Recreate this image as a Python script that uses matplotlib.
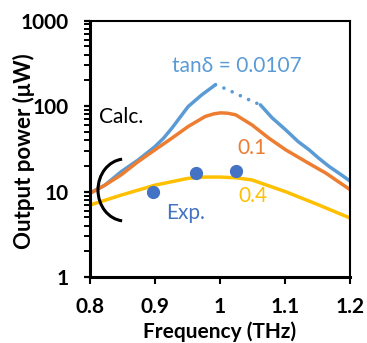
import matplotlib
matplotlib.use("Agg")
import matplotlib.pyplot as plt
import numpy as np
from matplotlib.patches import Arc
from matplotlib.ticker import LogLocator, NullFormatter, FixedLocator

plt.rcParams['font.family'] = ['Lato', 'DejaVu Sans']

# calculated curves (frequency in THz, power in uW)
f_low = [0.800, 0.823, 0.848, 0.874, 0.900, 0.913, 0.926, 0.938, 0.951,
         0.972, 0.993]
p_low = [9.6, 11.9, 17.1, 23.4, 33.6, 42.0, 55.2, 73.0, 98.8,
         135.5, 177.8]
f_gap = [0.993, 1.010, 1.028, 1.045, 1.062]
p_gap = [177.8, 158.0, 136.0, 118.0, 103.5]
f_high = [1.062, 1.080, 1.101, 1.120, 1.137, 1.152, 1.168, 1.185, 1.201]
p_high = [103.5, 73.0, 52.7, 38.5, 30.8, 24.5, 19.6, 16.0, 13.1]

f_mid = [0.800, 0.823, 0.848, 0.874, 0.900, 0.926, 0.951, 0.977, 0.990,
         1.001, 1.012, 1.024, 1.049, 1.075, 1.101, 1.132, 1.163, 1.201]
p_mid = [9.55, 11.9, 15.7, 22.4, 30.8, 42.2, 57.7, 75.5, 81.0,
         83.4, 82.5, 79.1, 60.4, 42.2, 30.8, 22.4, 16.4, 10.4]

f_big = [0.800, 0.848, 0.900, 0.951, 0.975, 1.000, 1.025, 1.049, 1.101,
         1.152, 1.201]
p_big = [6.97, 9.1, 11.9, 14.3, 14.8, 14.8, 14.5, 13.7, 9.97, 6.97, 4.87]

# measured points
f_exp = [0.897, 0.963, 1.024]
p_exp = [10.0, 16.7, 17.6]

blue = '#5B9BD5'
orange = '#ED7D31'
yellow = '#FFC000'
dot = '#4472C4'

fig = plt.figure(figsize=(3.67, 3.43), dpi=100)
ax = fig.add_axes([0.245, 0.192, 0.709, 0.748])

ax.plot(f_low, p_low, color=blue, lw=2.5, solid_capstyle='round')
ax.plot(f_gap, p_gap, color=blue, lw=2.6, linestyle=(0, (0.01, 2.5)),
        dash_capstyle='round')
ax.plot(f_high, p_high, color=blue, lw=2.5, solid_capstyle='round')
ax.plot(f_mid, p_mid, color=orange, lw=2.5)
ax.plot(f_big, p_big, color=yellow, lw=2.5)
ax.plot(f_exp, p_exp, 'o', color=dot, ms=8.5, zorder=5)

ax.set_yscale('log')
ax.set_xlim(0.8, 1.2)
ax.set_ylim(1, 1000)
ax.xaxis.set_major_locator(FixedLocator([0.8, 0.9, 1.0, 1.1, 1.2]))
ax.set_xticklabels(['0.8', '0.9', '1', '1.1', '1.2'])
ax.yaxis.set_major_locator(FixedLocator([1, 10, 100, 1000]))
ax.set_yticklabels(['1', '10', '100', '1000'])
ax.yaxis.set_minor_locator(LogLocator(base=10, subs=np.arange(2, 10)))
ax.yaxis.set_minor_formatter(NullFormatter())

for lbl in ax.get_xticklabels() + ax.get_yticklabels():
    lbl.set_fontweight('bold')
    lbl.set_fontsize(15)

ax.tick_params(axis='y', which='major', direction='out', length=4, width=1.6,
               pad=11, right=False)
ax.tick_params(axis='y', which='minor', direction='out', length=4, width=1.4,
               right=False)
ax.tick_params(axis='x', which='major', direction='out', length=5, width=1.5,
               pad=9, top=False)

ax.spines['left'].set_linewidth(2.2)
ax.spines['bottom'].set_linewidth(2.2)
ax.spines['top'].set_linewidth(1.5)
ax.spines['right'].set_linewidth(1.5)

ax.set_xlabel('Frequency (THz)', fontsize=15, fontweight='bold')
ax.set_ylabel('Output power (\u03bcW)', fontsize=16, fontweight='bold')
ax.xaxis.set_label_coords(0.5, -0.214)
ax.xaxis.label.set_va('center')
ax.yaxis.set_label_coords(-0.254, 0.49)
ax.yaxis.label.set_va('center')

ax.text(1.0255, 296, 'tan\u03b4 = 0.0107', color=blue, fontsize=15,
        ha='center', va='center')
ax.text(0.8487, 75, 'Calc.', color='black', fontsize=15, ha='center', va='center')
ax.text(0.9467, 5.6, 'Exp.', color=dot, fontsize=15, ha='center', va='center')
ax.text(1.0487, 32.4, '0.1', color=orange, fontsize=15, ha='center', va='center')
ax.text(1.050, 8.9, '0.4', color=yellow, fontsize=15, ha='center', va='center')

# bracket grouping the curves at the left edge
arc = Arc((125 / 367, 1 - 190 / 343), 2 * 27 / 367, 2 * 31 / 343,
          theta1=95, theta2=265, transform=fig.transFigure,
          color='black', lw=2.2, clip_on=False, zorder=6)
fig.add_artist(arc)

fig.savefig('out.png', dpi=100)
